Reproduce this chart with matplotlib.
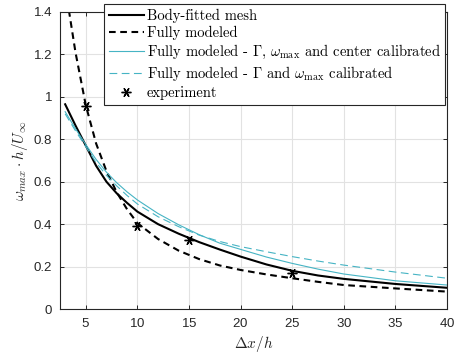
import matplotlib
matplotlib.use("Agg")
import matplotlib.pyplot as plt
from matplotlib.ticker import FormatStrFormatter

plt.rcParams["mathtext.fontset"] = "cm"
plt.rcParams["axes.formatter.use_mathtext"] = True

# Downstream distance and peak vorticity estimates
dx = [3, 4, 5, 6, 7, 8, 9, 10, 12, 14, 16, 18, 20, 22.5, 25, 27.5, 30, 35, 40]
body_fitted = [0.965, 0.865, 0.77, 0.675, 0.60, 0.545, 0.50, 0.459, 0.40, 0.355,
               0.315, 0.28, 0.247, 0.21, 0.18, 0.158, 0.142, 0.118, 0.10]
fully_modeled = [1.52, 1.21, 0.96, 0.78, 0.65, 0.55, 0.47, 0.405, 0.33, 0.275,
                 0.235, 0.205, 0.184, 0.163, 0.145, 0.128, 0.113, 0.097, 0.082]
calib_center = [0.93, 0.85, 0.775, 0.705, 0.645, 0.595, 0.552, 0.514, 0.45, 0.397,
                0.35, 0.31, 0.281, 0.245, 0.215, 0.188, 0.165, 0.133, 0.113]
calib_gamma = [0.92, 0.84, 0.765, 0.69, 0.63, 0.58, 0.535, 0.495, 0.435, 0.388,
               0.348, 0.318, 0.294, 0.27, 0.247, 0.226, 0.207, 0.174, 0.145]
exp_dx = [5, 10, 15, 25]
exp_omega = [0.955, 0.39, 0.325, 0.172]

labels = [
    "Body-fitted mesh",
    "Fully modeled",
    r"Fully modeled - $\Gamma$, $\omega_{\rm max}$ and center calibrated",
    r"Fully modeled - $\Gamma$ and $\omega_{\rm max}$ calibrated",
    "experiment",
]
xticks = [5, 10, 15, 20, 25, 30, 35, 40]
yticks = [0, 0.2, 0.4, 0.6, 0.8, 1.0, 1.2, 1.4]

teal = "#46b4c4"
spine = "#262626"

fig = plt.figure(figsize=(4.6, 3.58), dpi=100)
ax = fig.add_axes([60 / 460, 49 / 358, 387 / 460, 297 / 358])

ax.plot(dx, body_fitted, color="black", lw=1.5, label=labels[0])
ax.plot(dx, fully_modeled, color="black", lw=1.5, ls=(0, (3.2, 2.2)), label=labels[1])
ax.plot(dx, calib_center, color=teal, lw=0.8, label=labels[2])
ax.plot(dx, calib_gamma, color=teal, lw=0.8, ls=(0, (7, 4)), label=labels[3])
ax.plot(exp_dx, exp_omega, ls="none", marker=(6, 2, 90), ms=7, mew=1.0,
        color="black", label=labels[4])

ax.set_xlim(2.5, 40)
ax.set_ylim(0, 1.4)
ax.set_xticks(xticks)
ax.set_yticks(yticks)
ax.yaxis.set_major_formatter(FormatStrFormatter("%g"))
ax.grid(True, color="#e2e2e2", lw=0.8)
ax.set_axisbelow(True)
ax.tick_params(direction="in", length=3, width=0.7, color=spine,
               top=True, right=True, labelsize=9.5, labelcolor="#262626", pad=5.5)
for lab in ax.get_xticklabels() + ax.get_yticklabels():
    lab.set_fontfamily("Liberation Sans")
for s in ax.spines.values():
    s.set_color(spine)
    s.set_linewidth(0.8)

ax.set_xlabel(r"$\Delta x/h$", fontsize=11, labelpad=3, color="#262626")
ax.set_ylabel(r"$\omega_{max}\cdot h/U_\infty$", fontsize=11, labelpad=3, color="#262626")

leg = fig.legend(loc="upper left",
                 bbox_to_anchor=(104 / 460, 350 / 358, 341 / 460, 0.01),
                 mode="expand", borderaxespad=0,
                 prop={"family": "cmr10", "size": 10.5},
                 handlelength=2.4, handletextpad=0.2, labelspacing=0.2,
                 borderpad=0.32, fancybox=False, framealpha=1,
                 edgecolor=spine)
leg.get_frame().set_linewidth(0.8)

fig.savefig("out.png", dpi=100)
